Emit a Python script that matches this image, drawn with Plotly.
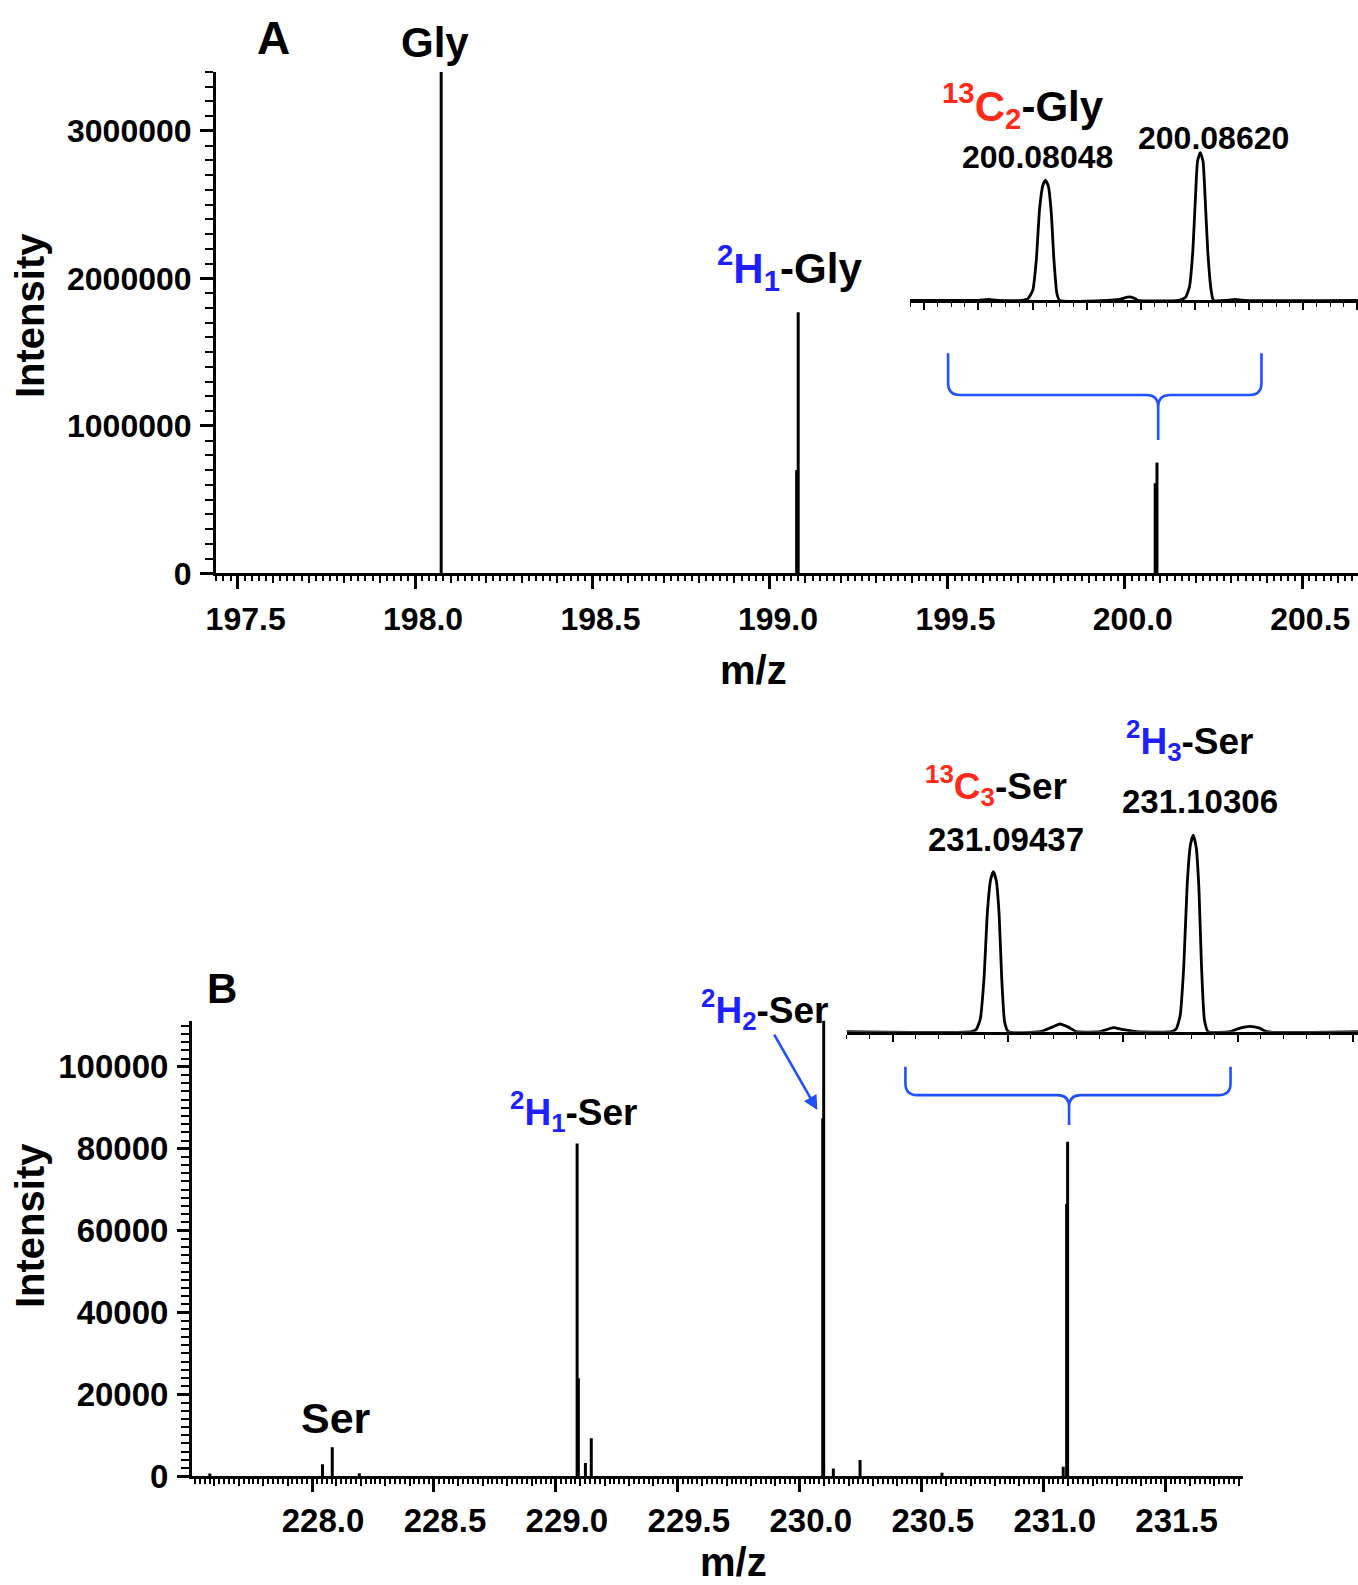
import plotly.graph_objects as go

W, H = 1358, 1585
FONT = "Liberation Sans, Arial, sans-serif"
BLUE_TXT = "#1f1fff"
RED_TXT = "#ff2a1a"
BLUE_LINE = "#2050ff"

# ---------------- Panel A data (Gly) ----------------
gly_mz = [198.0735, 199.0752, 199.0795, 200.0855, 200.0905]
gly_int = [3400000, 700000, 1770000, 611000, 751000]

insetA_mz = [200.07547, 200.07800, 200.07835, 200.07870,
             200.07958, 200.07983, 200.08001, 200.08014, 200.08026, 200.08038, 200.08048,
             200.08059, 200.08069, 200.08079, 200.08090, 200.08100,
             200.08278, 200.08320, 200.08359, 200.08380, 200.08389,
             200.08540, 200.08565, 200.08580, 200.08592, 200.08602, 200.08610, 200.08620,
             200.08630, 200.08638, 200.08648, 200.08660, 200.08669,
             200.08720, 200.08749, 200.08780, 200.09203]
insetA_int = [0, 0, 4000, 0,
              0, 8800, 51600, 206600, 464900, 583600, 611000,
              576900, 447800, 206600, 34600, 0,
              0, 5000, 17000, 8000, 0,
              0, 14000, 68900, 241900, 517900, 708000, 751000,
              708000, 517900, 241900, 51800, 0,
              0, 5000, 0, 0]

# ---------------- Panel B data (Ser) ----------------
ser_mz = [227.581, 228.043, 228.083, 228.194, 229.087, 229.092, 229.121, 229.145,
          230.094, 230.098, 230.1375, 230.247, 230.583, 231.080, 231.094, 231.098]
ser_int = [680, 2900, 7100, 700, 81300, 23900, 3200, 9250,
           87400, 111300, 1900, 3960, 850, 2300, 66500, 81700]

insetB_mz = [231.08798,
             231.09341, 231.09363, 231.09380, 231.09396, 231.09411, 231.09425, 231.09437,
             231.09450, 231.09462, 231.09473, 231.09486, 231.09502,
             231.09640, 231.09690, 231.09727, 231.09765, 231.09799,
             231.09901, 231.09930, 231.09959, 231.10000, 231.10060,
             231.10210, 231.10232, 231.10249, 231.10265, 231.10280, 231.10294, 231.10306,
             231.10319, 231.10331, 231.10342, 231.10355, 231.10371,
             231.10466, 231.10510, 231.10553, 231.10595, 231.10626,
             231.11023]
insetB_int = [0,
              0, 1000, 5300, 21900, 49900, 63200, 66500,
              62500, 48500, 22600, 4000, 0,
              0, 1800, 3200, 1800, 0,
              0, 900, 1660, 900, 0,
              0, 1200, 6500, 27000, 61300, 77600, 81700,
              76800, 59600, 27800, 4900, 0,
              0, 1500, 2200, 1500, 0,
              0]


def sticks(mz, inten):
    xs, ys = [], []
    for m, i in zip(mz, inten):
        xs += [m, m, None]
        ys += [0, i, None]
    return xs, ys


def px(x):
    return x / W


def py(y):
    return 1 - y / H


fig = go.Figure()
ax_, ay_ = sticks(gly_mz, gly_int)
fig.add_trace(go.Scatter(x=ax_, y=ay_, mode="lines", line=dict(color="black", width=3),
                         xaxis="x", yaxis="y", showlegend=False, hoverinfo="skip"))
fig.add_trace(go.Scatter(x=insetA_mz, y=insetA_int, mode="lines",
                         line=dict(color="black", width=2.8, shape="spline", smoothing=0.5),
                         xaxis="x2", yaxis="y2", showlegend=False, hoverinfo="skip"))
bx_, by_ = sticks(ser_mz, ser_int)
fig.add_trace(go.Scatter(x=bx_, y=by_, mode="lines", line=dict(color="black", width=3),
                         xaxis="x3", yaxis="y3", showlegend=False, hoverinfo="skip"))
fig.add_trace(go.Scatter(x=insetB_mz, y=insetB_int, mode="lines",
                         line=dict(color="black", width=2.8, shape="spline", smoothing=0.5),
                         xaxis="x4", yaxis="y4", showlegend=False, hoverinfo="skip"))
# dummy traces for overlay tick axes
fig.add_trace(go.Scatter(x=[None], y=[None], xaxis="x5", yaxis="y", showlegend=False, hoverinfo="skip"))
fig.add_trace(go.Scatter(x=[None], y=[None], xaxis="x6", yaxis="y3", showlegend=False, hoverinfo="skip"))

xA_range = [197.439, 200.657]
xB_range = [227.508, 231.815]


def tickfont(size):
    return dict(family=FONT, size=size, color="black", weight="bold")


common_x = dict(showline=True, linecolor="black", linewidth=3, ticks="outside",
                tickcolor="black", tickwidth=2.5, showgrid=False, zeroline=False,
                tickformat=".1f", tick0=0, dtick=0.5, ticklen=13, automargin=False)

fig.update_layout(
    template="none",
    width=W, height=H, margin=dict(l=0, r=0, t=0, b=0, autoexpand=False),
    paper_bgcolor="white", plot_bgcolor="rgba(0,0,0,0)",
    xaxis=dict(domain=[px(216), 1.0], range=xA_range, anchor="y",
               tickfont=tickfont(32), ticklabelshift=8, ticklabelstandoff=2,
               minor=dict(dtick=0.02, tick0=0, ticklen=5, tickwidth=1.5, ticks="outside",
                          tickcolor="black", showgrid=False), **common_x),
    yaxis=dict(domain=[py(573.3), py(72)], range=[0, 3400000], anchor="x",
               showline=True, linecolor="black", linewidth=3, ticks="outside",
               tickcolor="black", tickwidth=2.5, ticklen=13, dtick=1000000, tick0=0,
               tickformat="d", tickfont=tickfont(32), showgrid=False, zeroline=False,
               ticklabelstandoff=2, automargin=False,
               minor=dict(dtick=100000, ticklen=8, tickwidth=1.6, ticks="outside",
                          tickcolor="black", showgrid=False)),
    xaxis5=dict(overlaying="x", anchor="y", range=xA_range, ticks="outside", ticklen=9,
                tickwidth=2, tickcolor="black", dtick=0.1, tick0=0, showticklabels=False,
                showline=False, showgrid=False, zeroline=False, automargin=False),
    xaxis2=dict(domain=[px(910), 1.0], range=[200.07547, 200.09203], anchor="y2",
                showline=True, linecolor="black", linewidth=2.6, ticks="outside",
                tickcolor="black", tickwidth=1.8, ticklen=7, dtick=0.002, tick0=200.0,
                showticklabels=False, showgrid=False, zeroline=False, automargin=False,
                minor=dict(dtick=0.0005, tick0=200.0, ticklen=4, tickwidth=1.4, ticks="outside",
                           tickcolor="black", showgrid=False)),
    yaxis2=dict(domain=[py(300.3), py(142.9)], range=[0, 800000], anchor="x2", visible=False,
                automargin=False),
    xaxis3=dict(domain=[px(192), px(1242.5)], range=xB_range, anchor="y3",
                tickfont=tickfont(33), ticklabelshift=11, ticklabelstandoff=0,
                minor=dict(dtick=0.02, tick0=0, ticklen=5, tickwidth=1.5, ticks="outside",
                           tickcolor="black", showgrid=False), **common_x),
    yaxis3=dict(domain=[py(1476.2), py(1020.6)], range=[0, 111300], anchor="x3",
                showline=True, linecolor="black", linewidth=3, ticks="outside",
                tickcolor="black", tickwidth=2.5, ticklen=12, dtick=20000, tick0=0,
                tickformat="d", tickfont=tickfont(33), showgrid=False, zeroline=False,
                ticklabelstandoff=2, automargin=False,
                minor=dict(dtick=2000, ticklen=8, tickwidth=1.5, ticks="outside",
                           tickcolor="black", showgrid=False)),
    xaxis6=dict(overlaying="x3", anchor="y3", range=xB_range, ticks="outside", ticklen=9,
                tickwidth=2, tickcolor="black", dtick=0.1, tick0=0, showticklabels=False,
                showline=False, showgrid=False, zeroline=False, automargin=False),
    xaxis4=dict(domain=[px(846.5), 1.0], range=[231.08798, 231.11023], anchor="y4",
                showline=True, linecolor="black", linewidth=2.6, ticks="outside",
                tickcolor="black", tickwidth=1.8, ticklen=7, dtick=0.005, tick0=231.0,
                showticklabels=False, showgrid=False, zeroline=False, automargin=False,
                minor=dict(dtick=0.001, tick0=231.0, ticklen=4, tickwidth=1.4, ticks="outside",
                           tickcolor="black", showgrid=False)),
    yaxis4=dict(domain=[py(1031.7), py(815.2)], range=[0, 90000], anchor="x4", visible=False,
                automargin=False),
)


def label(text, x, y, size, angle=0):
    fig.add_annotation(text=text, x=px(x), y=py(y), xref="paper", yref="paper",
                       xanchor="center", yanchor="middle", showarrow=False, textangle=angle,
                       font=dict(family=FONT, size=size, color="black", weight="bold"))


def iso(sup, el, sub, color, rest):
    return (f"<span style='color:{color}'><sup>{sup}</sup>{el}<sub>{sub}</sub></span>{rest}")


# Panel A text
label("A", 273, 38, 46)
label("Gly", 435, 42, 42)
label(iso("2", "H", "1", BLUE_TXT, "-Gly"), 789, 268, 42)
label(iso("13", "C", "2", RED_TXT, "-Gly"), 1023, 106, 42)
label("200.08048", 1037, 157, 32)
label("200.08620", 1213, 138, 32)
label("Intensity", 30, 316, 40, -90)
label("m/z", 753, 670, 40)

# Panel B text
label("B", 222, 988, 42)
label("Ser", 336, 1418, 43)
label(iso("2", "H", "1", BLUE_TXT, "-Ser"), 574, 1111, 37)
label(iso("2", "H", "2", BLUE_TXT, "-Ser"), 765, 1009, 37)
label(iso("13", "C", "3", RED_TXT, "-Ser"), 996, 785, 37)
label("231.09437", 1006, 839, 33)
label(iso("2", "H", "3", BLUE_TXT, "-Ser"), 1190, 740, 37)
label("231.10306", 1200, 801, 33)
label("Intensity", 30, 1226, 40, -90)
label("m/z", 733, 1562, 40)

# Arrow for 2H2-Ser
fig.add_annotation(x=230.072, y=89450, xref="x3", yref="y3", text="", showarrow=True,
                   ax=-44, ay=-77, arrowcolor=BLUE_LINE, arrowwidth=2.6, arrowhead=2,
                   arrowsize=1.1)


def brace_path(left, right, center, top, mid, tip, rx, ry):
    return (f"M {left},{top} L {left},{mid + ry} Q {left},{mid} {left + rx},{mid} "
            f"L {center - rx},{mid} Q {center},{mid} {center},{mid - ry} L {center},{tip} "
            f"M {center},{mid - ry} Q {center},{mid} {center + rx},{mid} "
            f"L {right - rx},{mid} Q {right},{mid} {right},{mid + ry} L {right},{top}")


fig.add_shape(type="path", xref="x", yref="y",
              path=brace_path(199.502, 200.385, 200.094, 1492000, 1209000, 904000, 0.034, 81000),
              line=dict(color=BLUE_LINE, width=2.6))
fig.add_shape(type="path", xref="x3", yref="y3",
              path=brace_path(230.433, 231.766, 231.104, 100000, 93100, 85800, 0.049, 2900),
              line=dict(color=BLUE_LINE, width=2.6))

fig.write_html("out.html",
               config={"displayModeBar": False},
               post_script="document.body.style.margin='0px';"
                           "document.body.style.overflow='hidden';")
